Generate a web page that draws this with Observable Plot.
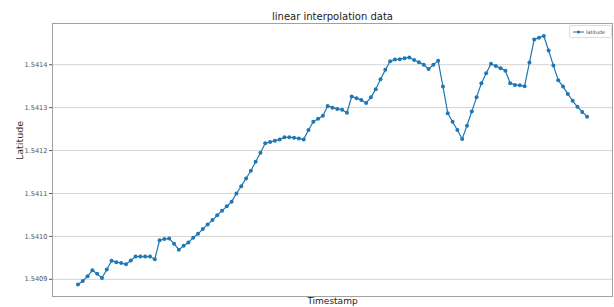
<!DOCTYPE html>
<html>
<head>
<meta charset="utf-8">
<script src="https://cdn.jsdelivr.net/npm/d3@7"></script>
<script src="https://cdn.jsdelivr.net/npm/@observablehq/plot@0.6"></script>
<style>
  html, body { margin: 0; padding: 0; background: #fff; }
  #wrap { position: relative; width: 614px; height: 307px; font-family: "DejaVu Sans", sans-serif; }
  #legend { position: absolute; left: 569px; top: 25px; width: 41px; height: 11px; border: 1px solid #ddd; border-radius: 2px; background: rgba(255,255,255,0.85); display: flex; align-items: center; font-size: 5px; color: #444; }
  #legend svg { margin: 0 2px 0 3px; }
</style>
</head>
<body>
<div id="wrap"></div>
<script>
const title = "linear interpolation data";
const xLabel = "Timestamp";
const yLabel = "Latitude";
const seriesName = "latitude";
const yTicks = [1.5409, 1.5410, 1.5411, 1.5412, 1.5413, 1.5414];
const latitude = [
  1.540888, 1.540896, 1.540907, 1.540921, 1.540913, 1.540903, 1.540923, 1.540943, 1.540940, 1.540938,
  1.540935, 1.540944, 1.540953, 1.540953, 1.540953, 1.540953, 1.540947, 1.540991, 1.540994, 1.540995,
  1.540983, 1.540969, 1.540978, 1.540986, 1.540997, 1.541006, 1.541017, 1.541028, 1.541038, 1.541049,
  1.541060, 1.541070, 1.541081, 1.541100, 1.541117, 1.541135, 1.541153, 1.541174, 1.541195, 1.541217,
  1.541220, 1.541223, 1.541226, 1.541231, 1.541231, 1.541230, 1.541228, 1.541226, 1.541248, 1.541267,
  1.541274, 1.541281, 1.541304, 1.541300, 1.541297, 1.541295, 1.541288, 1.541326, 1.541322, 1.541318,
  1.541311, 1.541324, 1.541343, 1.541366, 1.541388, 1.541408, 1.541412, 1.541413, 1.541415, 1.541417,
  1.541411, 1.541406, 1.541400, 1.541390, 1.541400, 1.541409, 1.541349, 1.541287, 1.541267, 1.541248,
  1.541227, 1.541258, 1.541291, 1.541324, 1.541357, 1.541380, 1.541402, 1.541397, 1.541392, 1.541386,
  1.541357, 1.541353, 1.541352, 1.541350, 1.541405, 1.541459, 1.541463, 1.541467, 1.541433, 1.541398,
  1.541364, 1.541349, 1.541332, 1.541316, 1.541302, 1.541290, 1.541279
];
const data = latitude.map((v, i) => ({t: i, lat: v}));
const color = "#1f77b4";

const chart = Plot.plot({
  width: 614, height: 307,
  marginTop: 23, marginLeft: 52, marginRight: 2, marginBottom: 11,
  style: {fontFamily: "DejaVu Sans, sans-serif", background: "white"},
  x: {domain: [-5.3, 111.3], axis: null},
  y: {domain: [1.54086, 1.541496], axis: null},
  marks: [
    Plot.gridY(yTicks, {stroke: "#d4d4d4", strokeOpacity: 1, strokeWidth: 1}),
    Plot.frame({stroke: "#a0a0a0"}),
    Plot.axisY(yTicks, {tickFormat: d => d.toFixed(4), tickSize: 3, tickPadding: 2, fontSize: 6.6, color: "#555", label: null}),
    Plot.line(data, {x: "t", y: "lat", stroke: color, strokeWidth: 1.2}),
    Plot.dot(data, {x: "t", y: "lat", fill: color, stroke: null, r: 2}),
    Plot.text([title], {text: d => d, frameAnchor: "top", dy: -11, fontSize: 10, fill: "#222"}),
    Plot.text([yLabel], {text: d => d, frameAnchor: "left", dx: -33, rotate: -90, fontSize: 9.5, fill: "#333"}),
    Plot.text([xLabel], {text: d => d, frameAnchor: "bottom", dy: 7, fontSize: 9, fill: "#222"})
  ]
});
const wrap = document.getElementById("wrap");
wrap.appendChild(chart);
const legend = document.createElement("div");
legend.id = "legend";
legend.innerHTML = `<svg width="11" height="6"><line x1="0" y1="3" x2="11" y2="3" stroke="${color}" stroke-width="1"/><circle cx="5.5" cy="3" r="1.6" fill="${color}"/></svg><span>${seriesName}</span>`;
wrap.appendChild(legend);
</script>
</body>
</html>
